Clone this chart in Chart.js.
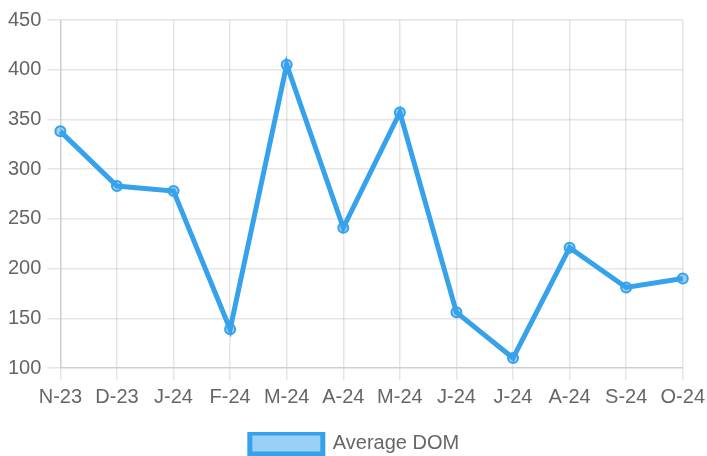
<!DOCTYPE html>
<html>
<head>
<meta charset="utf-8">
<script src="https://cdn.jsdelivr.net/npm/chart.js@4"></script>
<style>
  html, body { margin: 0; padding: 0; background: #fff; }
  #wrap { width: 707px; height: 456px; }
</style>
</head>
<body>
<div id="wrap"><canvas id="chartDom"></canvas></div>
<script>
// mois affichés sur l'axe x
const months = ["N-23", "D-23", "J-24", "F-24", "M-24", "A-24", "M-24", "J-24", "J-24", "A-24", "S-24", "O-24"]
// jours sur le marché (moyenne)
const avgDom = [338, 283, 278, 139, 405, 241, 357, 156, 110, 221, 181, 190]
const yMin = 100
const yMax = 450
const yStep = 50

const gridColor = "rgba(0, 0, 0, 0.1)"
const textColor = "#666"

Chart.defaults.font.family = "'Liberation Sans', Helvetica, Arial, sans-serif"
Chart.defaults.font.size = 20
Chart.defaults.color = textColor

let dataLine = {
    labels: months,
    datasets: [
    {
        label: "Average DOM",
        data: avgDom,
        borderColor: "rgb(54, 162, 235)",
        backgroundColor: "rgba(54, 162, 235, 0.5)",
        borderWidth: 5,
        pointRadius: 5,
        pointBorderWidth: 2,
        pointBackgroundColor: "rgba(54, 162, 235, 0.5)",
        pointBorderColor: "rgb(54, 162, 235)",
        tension: 0,
        fill: false,
    },
    ],
}

let configLine = {
    type: "line",
    data: dataLine,
    options: {
        responsive: true,
        maintainAspectRatio: false,
        animation: false,
        layout: { padding: { top: 20, right: 0, left: 2, bottom: -8 } },
        plugins: {
            legend: {
                position: "bottom",
                labels: { boxWidth: 73, boxHeight: 21, padding: 1 },
            },
            tooltip: { enabled: false },
        },
        scales: {
            x: {
                grid: { color: gridColor, lineWidth: 1.5, tickLength: 12 },
                border: { color: gridColor, width: 1.5 },
                ticks: { padding: 5, maxRotation: 0, autoSkip: false },
                // espace entre les labels et la légende, et un peu moins de marge à droite
                afterFit: (scale) => {
                    scale.height += 18
                    scale.paddingRight = Math.max(scale.paddingRight - 3, 0)
                },
            },
            y: {
                min: yMin,
                max: yMax,
                grid: { color: gridColor, lineWidth: 1.5, tickLength: 13 },
                border: { color: gridColor, width: 1.5 },
                ticks: { stepSize: yStep, padding: 6 },
            },
        },
    },
}

new Chart(document.getElementById("chartDom"), configLine)
</script>
</body>
</html>
